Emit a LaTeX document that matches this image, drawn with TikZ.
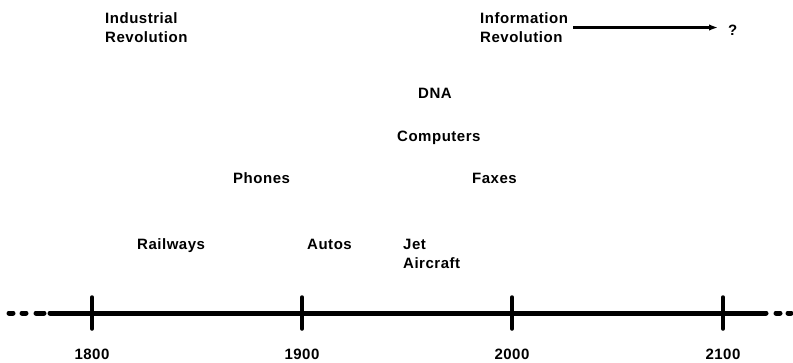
\documentclass[tikz,border=0pt]{standalone}
\usepackage{fontspec}
\usetikzlibrary{arrows.meta}
\newfontfamily\labelfont[LetterSpace=3.5]{Liberation Sans Bold}
\begin{document}
\begin{tikzpicture}[x=1pt, y=-1pt,
  every node/.style={font=\labelfont\fontsize{15}{18.5}\selectfont, inner sep=0pt},
  event/.style={anchor=base west},
  era/.style={anchor=west, align=left},
  axisline/.style={line width=5pt, line cap=round}]
  \useasboundingbox (0,0) rectangle (793,362);
  \coordinate (axl) at (50,313);
  \coordinate (axr) at (766,313);
  \draw[axisline] (axl) -- (axr);
  \foreach \a/\b in {9/13, 22/26, 36/44, 776/780, 788/791}
    \draw[axisline] (\a,313) -- (\b,313);
  \foreach \x/\yr in {92/1800, 302/1900, 512/2000, 723/2100} {
    \draw[line width=3.5pt, line cap=round] (\x,297) -- (\x,329);
    \node[anchor=base] (yr\yr) at (\x,359) {\yr};
  }
  \node[era] (indrev) at (105,27.5) {Industrial\\Revolution};
  \node[era] (inforev) at (480,27.5) {Information\\Revolution};
  \node[anchor=west] (query) at (728,30) {?};
  \draw[line width=3.2pt, -{Latex[length=9pt,width=6.5pt]}, shorten <=5pt, shorten >=10pt]
    (inforev.east) -- (inforev.east -| query.west);
  \node[event] (dna) at (418,98) {DNA};
  \node[event] (comp) at (397,141) {Computers};
  \node[event] (phones) at (233,183) {Phones};
  \node[event] (faxes) at (472,183) {Faxes};
  \node[event] (rail) at (137,249) {Railways};
  \node[event] (autos) at (307,249) {Autos};
  \node[era] (jet) at (403,254) {Jet\\Aircraft};
\end{tikzpicture}
\end{document}
